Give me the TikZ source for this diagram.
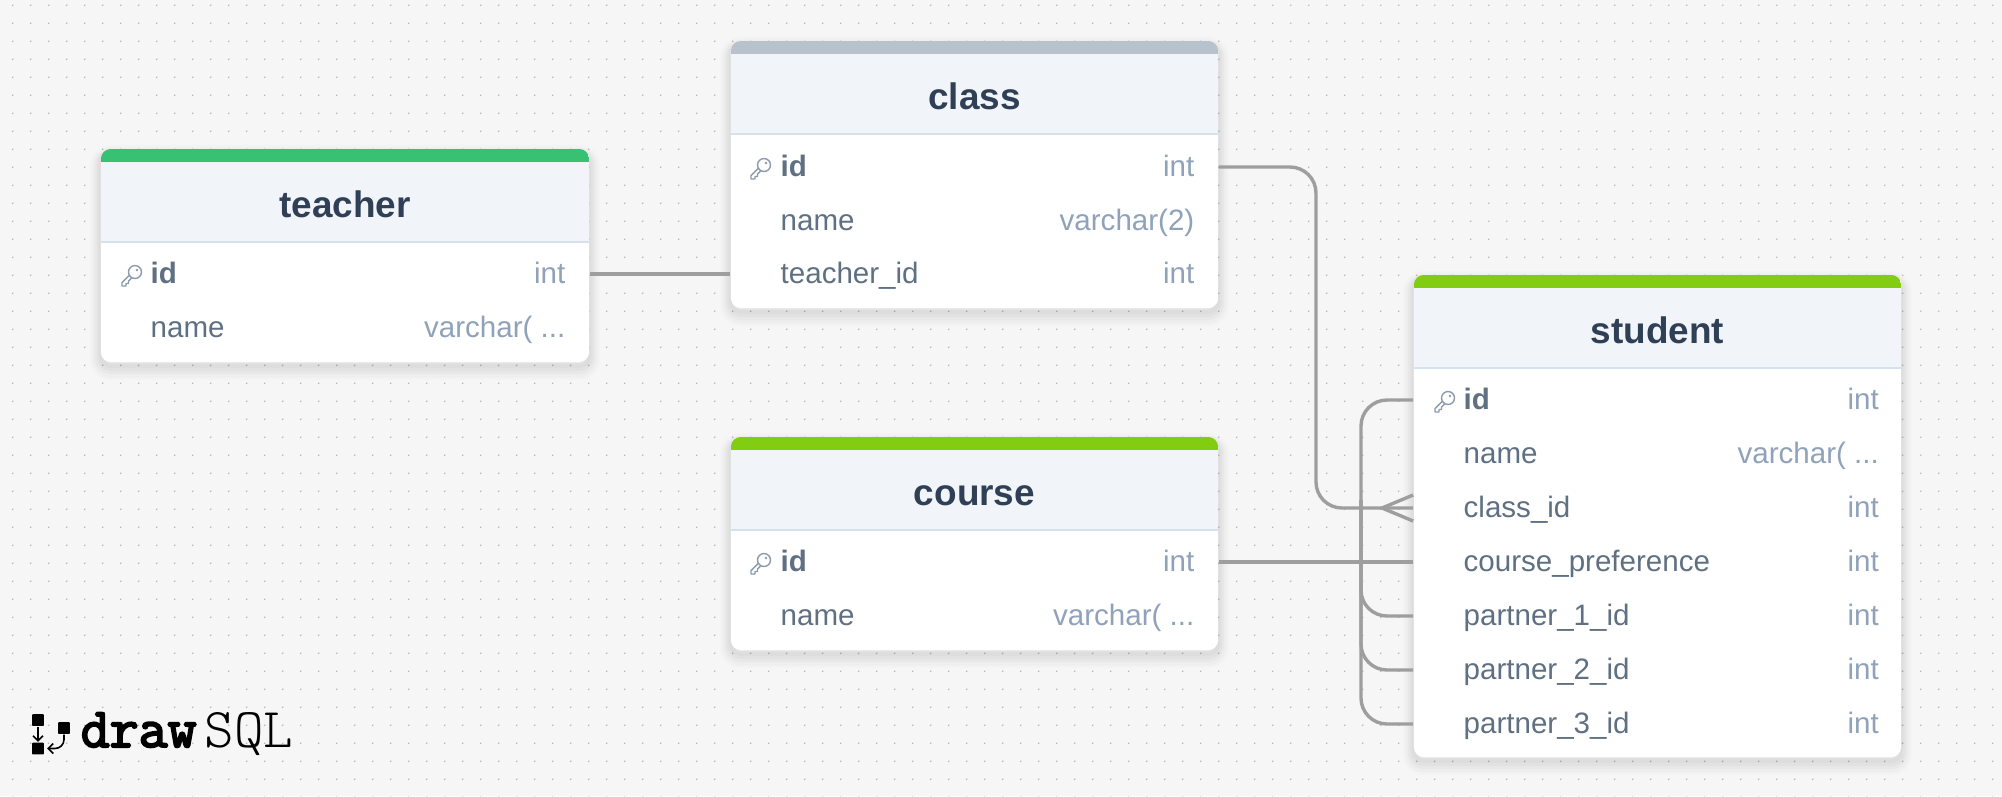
\documentclass[tikz,border=0pt]{standalone}
\usepackage{fontspec}
\setmainfont{Liberation Sans}
\newfontfamily\logoheavy[FakeBold=3.5]{Latin Modern Mono}
\newfontfamily\logolight{Latin Modern Mono Light}
\usetikzlibrary{positioning, arrows.meta}
\definecolor{pagegray}{HTML}{F6F6F6}
\definecolor{griddot}{HTML}{BABABA}
\definecolor{titleink}{HTML}{2F3F55}
\definecolor{fieldink}{HTML}{5F7083}
\definecolor{typeink}{HTML}{90A2BA}
\definecolor{headfill}{HTML}{F1F4F9}
\definecolor{headrule}{HTML}{D6E1EE}
\definecolor{linkgray}{HTML}{9E9E9E}
\definecolor{keyink}{HTML}{8B9BAD}
\definecolor{stripegreen}{HTML}{38C172}
\definecolor{stripegray}{HTML}{B8C2CC}
\definecolor{stripelime}{HTML}{82CC12}
\tikzset{
  softshadow/.style={
    preaction={draw=black,draw opacity=.012,line width=.22cm,transform canvas={yshift=-.07cm}},
    preaction={draw=black,draw opacity=.018,line width=.17cm,transform canvas={yshift=-.07cm}},
    preaction={draw=black,draw opacity=.022,line width=.12cm,transform canvas={yshift=-.06cm}},
    preaction={draw=black,draw opacity=.024,line width=.08cm,transform canvas={yshift=-.05cm}},
    preaction={draw=black,draw opacity=.02,line width=.04cm,transform canvas={yshift=-.04cm}}},
  tablebox/.style={fill=white, rounded corners=1mm, inner sep=0pt, softshadow,
    path picture={
      \fill[#1, sharp corners] (path picture bounding box.north west) rectangle ([yshift=-.13cm]path picture bounding box.north east);
      \fill[headfill, sharp corners] ([yshift=-.13cm]path picture bounding box.north west) rectangle ([yshift=-.93cm]path picture bounding box.north east);
      \draw[headrule, line width=.012cm, sharp corners] ([yshift=-.93cm]path picture bounding box.north west) -- ([yshift=-.93cm]path picture bounding box.north east);
    }},
  tabletitle/.style={font=\fontsize{10.5}{12}\bfseries, text=titleink, inner sep=0pt, text height=.3cm, text depth=.06cm},
  fieldname/.style={font=\fontsize{8.4}{10}\selectfont, text=fieldink, anchor=west, inner sep=0pt, text height=.26cm, text depth=.066cm},
  fieldtype/.style={font=\fontsize{8.4}{10}\selectfont, text=typeink, anchor=east, inner sep=0pt, text height=.26cm, text depth=.066cm},
  fieldlink/.style={draw=linkgray, line width=.034cm, rounded corners=.26cm},
  logosquare/.style={fill=black, rounded corners=.008cm, minimum size=.118cm, inner sep=0pt},
  logoarrow/.style={draw=black, line width=.016cm, rounded corners=.09cm, -{Straight Barb[length=.05cm,width=.1cm]}},
  keyicon/.pic={
    \draw[keyink, line width=.014cm, line join=round] (0,0) circle (6.5);
    \fill[keyink] (2,-2) circle (1.3);
    \draw[keyink, line width=.014cm, line join=round] (-6,3.5) -- (-13,10.5) -- (-13,14) -- (-9,14) -- (-9,11.5) -- (-6.5,11.5) -- (-6.5,9) -- (-3.5,6);
  }
}
\begin{document}
\begin{tikzpicture}[x=0.01cm, y=-0.01cm]
\useasboundingbox (0,0) rectangle (2002,796);
\fill[pagegray] (0,0) rectangle (2002,796);
\foreach \i in {0,...,111}
  \foreach \j in {0,...,44}
    \fill[griddot] ({12.7+18*\i},{5.3+18*\j}) circle (0.9);
% teacher
\node[tablebox=stripegreen, minimum width=4.88cm, minimum height=2.13cm] (teacher) at (345,255.5) {};
\node[tabletitle] (teachertitle) at (345,205) {teacher};
\node[fieldname, font=\fontsize{8.4}{10}\bfseries] (teacherid) at (150,274) {id};
\node[fieldtype] (teacheridtype) at (566,274) {int};
\node[fieldname] (teachername) at (150,328) {name};
\node[fieldtype] (teachernametype) at (566,328) {varchar( ...};
\pic at (135,272) {keyicon};
% class
\node[tablebox=stripegray, minimum width=4.87cm, minimum height=2.67cm] (class) at (974.5,174.5) {};
\node[tabletitle] (classtitle) at (974.5,97) {class};
\node[fieldname, font=\fontsize{8.4}{10}\bfseries] (classid) at (780,167) {id};
\node[fieldtype] (classidtype) at (1195,167) {int};
\node[fieldname] (classname) at (780,220.5) {name};
\node[fieldtype] (classnametype) at (1195,220.5) {varchar(2)};
\node[fieldname] (classteacher) at (780,274) {teacher\_id};
\node[fieldtype] (classteachertype) at (1195,274) {int};
\pic at (764,165) {keyicon};
% course
\node[tablebox=stripelime, minimum width=4.87cm, minimum height=2.13cm] (course) at (974.5,543.5) {};
\node[tabletitle] (coursetitle) at (974.5,493) {course};
\node[fieldname, font=\fontsize{8.4}{10}\bfseries] (courseid) at (780,562) {id};
\node[fieldtype] (courseidtype) at (1195,562) {int};
\node[fieldname] (coursename) at (780,616) {name};
\node[fieldtype] (coursenametype) at (1195,616) {varchar( ...};
\pic at (764,560) {keyicon};
% student
\node[tablebox=stripelime, minimum width=4.87cm, minimum height=4.82cm] (student) at (1657.5,516) {};
\node[tabletitle] (studenttitle) at (1657.5,331) {student};
\node[fieldname, font=\fontsize{8.4}{10}\bfseries] (studentid) at (1463,400) {id};
\node[fieldtype] (studentidtype) at (1879.5,400) {int};
\node[fieldname] (studentname) at (1463,454) {name};
\node[fieldtype] (studentnametype) at (1879.5,454) {varchar( ...};
\node[fieldname] (studentclass) at (1463,508) {class\_id};
\node[fieldtype] (studentclasstype) at (1879.5,508) {int};
\node[fieldname] (studentcourse) at (1463,562) {course\_preference};
\node[fieldtype] (studentcoursetype) at (1879.5,562) {int};
\node[fieldname] (studentpartnera) at (1463,616) {partner\_1\_id};
\node[fieldtype] (studentpartneratype) at (1879.5,616) {int};
\node[fieldname] (studentpartnerb) at (1463,670) {partner\_2\_id};
\node[fieldtype] (studentpartnerbtype) at (1879.5,670) {int};
\node[fieldname] (studentpartnerc) at (1463,724) {partner\_3\_id};
\node[fieldtype] (studentpartnerctype) at (1879.5,724) {int};
\pic at (1448,398) {keyicon};
% links
\coordinate (classbend) at (1316,300);
\coordinate (trunk) at (1361,500);
\coordinate (crowfoot) at (1382,508);
\draw[fieldlink] (teacher.east |- teacherid) -- (class.west |- classteacher);
\draw[fieldlink] (class.east |- classid) -| (classbend) |- (student.west |- studentclass);
\draw[fieldlink] (course.east |- courseid) -- (student.west |- studentcourse);
\draw[fieldlink] (student.west |- studentid) -| (trunk) |- (student.west |- studentpartnerc);
\draw[fieldlink] (trunk) |- (student.west |- studentpartnera);
\draw[fieldlink] (trunk) |- (student.west |- studentpartnerb);
% crow foot
\draw[fieldlink, sharp corners] ([yshift=.13cm]student.west |- studentclass) -- (crowfoot) -- ([yshift=-.13cm]student.west |- studentclass);
% logo
\node[logosquare] (logoa) at (38,720) {};
\node[logosquare] (logob) at (64,728) {};
\node[logosquare] (logoc) at (38,748.5) {};
\draw[logoarrow] (logoa) -- (logoc.north);
\draw[logoarrow] (logob.south) |- ([xshift=.025cm]logoc.east);
\node[anchor=base west, inner sep=0pt, font=\logoheavy\fontsize{16}{18}\selectfont] (logodraw) at (80,747) {draw};
\node[anchor=base west, inner sep=0pt, font=\logolight\fontsize{16}{18}\selectfont] (logosql) at (204,747) {SQL};
\end{tikzpicture}
\end{document}
